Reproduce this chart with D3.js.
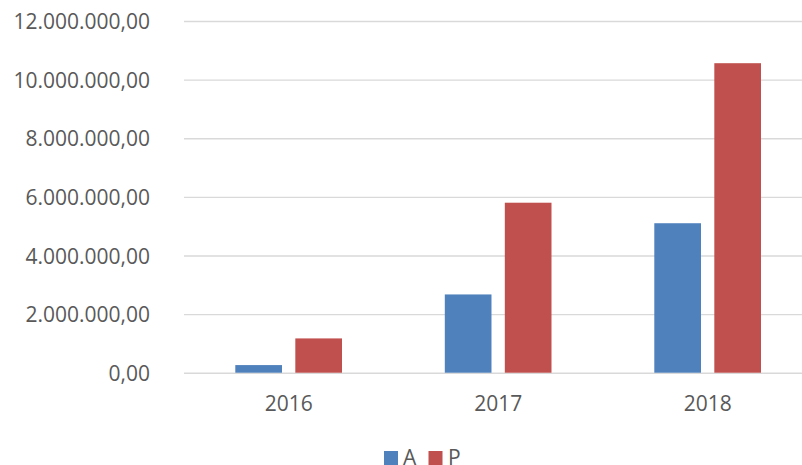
<!DOCTYPE html>
<html>
<head>
<meta charset="utf-8">
<script src="https://cdn.jsdelivr.net/npm/d3@7"></script>
<style>
  html, body { margin: 0; padding: 0; background: #fff; }
  svg { display: block; font-family: "Open Sans", sans-serif; }
</style>
</head>
<body>
<svg id="chart" width="802" height="465"></svg>
<script>
const categories = ["2016", "2017", "2018"];
const seriesNames = ["A", "P"];
const seriesA = [260000, 2670000, 5100000];
const seriesP = [1170000, 5800000, 10560000];
const yTicks = [0, 2000000, 4000000, 6000000, 8000000, 10000000, 12000000];
const colors = { A: "#4F81BD", P: "#C0504D" };

const data = categories.map((c, i) => ({ cat: c, A: seriesA[i], P: seriesP[i] }));

const svg = d3.select("#chart");
const plotLeft = 184, plotRight = 812.5, plotTop = 21, plotBottom = 372.7;

const y = d3.scaleLinear().domain([0, 12000000]).range([plotBottom, plotTop]);
const x0 = d3.scaleBand().domain(categories).range([plotLeft, plotRight]).paddingInner(0).paddingOuter(0);
const x1 = d3.scaleBand().domain(seriesNames).range([51.3, 158.0]).paddingInner(0.222).paddingOuter(0);

const fmt = v => {
  const s = d3.format(",.2f")(v);
  return s.replace(/,/g, "#").replace(/\./g, ",").replace(/#/g, ".");
};

// gridlines + y labels
const yAxis = d3.axisLeft(y).tickValues(yTicks).tickSize(-(plotRight - plotLeft)).tickFormat(fmt).tickPadding(34);
const gy = svg.append("g").attr("transform", `translate(${plotLeft},0)`).call(yAxis);
gy.select(".domain").remove();
gy.selectAll(".tick line").attr("stroke", "#d9d9d9").attr("stroke-width", 1.4);
gy.selectAll(".tick text")
  .attr("fill", "#595959")
  .attr("font-size", 21)
  .attr("font-family", "'Open Sans', sans-serif")
  .attr("dy", "0.36em");

// bars
const groups = svg.append("g").selectAll("g").data(data).join("g")
  .attr("transform", d => `translate(${x0(d.cat)},0)`);
groups.selectAll("rect")
  .data(d => seriesNames.map(k => ({ key: k, value: d[k] })))
  .join("rect")
  .attr("x", d => x1(d.key))
  .attr("width", x1.bandwidth())
  .attr("y", d => y(d.value))
  .attr("height", d => y(0) - y(d.value))
  .attr("fill", d => colors[d.key]);

// x axis labels
const xAxis = d3.axisBottom(x0).tickSize(0).tickPadding(0);
const gx = svg.append("g").attr("transform", `translate(0,${plotBottom})`).call(xAxis);
gx.select(".domain").remove();
gx.selectAll(".tick text")
  .attr("fill", "#595959")
  .attr("font-size", 21)
  .attr("font-family", "'Open Sans', sans-serif")
  .attr("y", 38.5)
  .attr("dy", 0);

// legend
const legendItems = [
  { key: "A", sx: 384, tx: 403 },
  { key: "P", sx: 428.5, tx: 448 }
];
const lg = svg.append("g");
lg.selectAll("rect").data(legendItems).join("rect")
  .attr("x", d => d.sx).attr("y", 451)
  .attr("width", 14).attr("height", 14)
  .attr("fill", d => colors[d.key]);
lg.selectAll("text").data(legendItems).join("text")
  .attr("x", d => d.tx).attr("y", 464.5)
  .attr("fill", "#595959")
  .attr("font-size", 21)
  .text(d => d.key);
</script>
</body>
</html>
